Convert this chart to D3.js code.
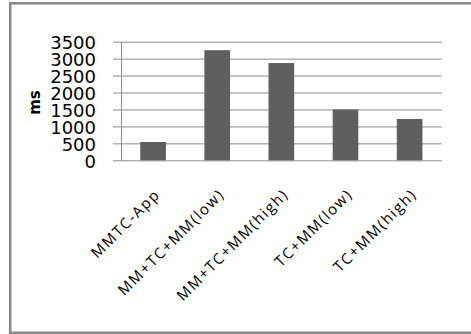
<!DOCTYPE html>
<html><head><meta charset="utf-8">
<script src="https://cdn.jsdelivr.net/npm/d3@7/dist/d3.min.js"></script>
<style>html,body{margin:0;padding:0;background:#fff;}svg{display:block;}</style>
</head><body>
<script>
const categories = ["MMTC-App", "MM+TC+MM(low)", "MM+TC+MM(high)", "TC+MM(low)", "TC+MM(high)"];
const values = [540, 3250, 2870, 1500, 1220];
const yTicks = [0, 500, 1000, 1500, 2000, 2500, 3000, 3500];
const yLabel = "ms";

const W = 471, H = 334;
const svg = d3.select("body").append("svg").attr("width", W).attr("height", H);

// frame
svg.append("rect").attr("x", 10.2).attr("y", 3.3).attr("width", 480).attr("height", 329.5)
  .attr("fill", "none").attr("stroke", "#898989").attr("stroke-width", 2.6);

const x = d3.scaleBand().domain(categories).range([121, 441.7]).paddingInner(0.6).paddingOuter(0.3);
const y = d3.scaleLinear().domain([0, 3500]).range([160.3, 41.7]);

// gridlines + y axis
const yAxis = d3.axisLeft(y).tickValues(yTicks).tickSize(-(441.7 - 121)).tickSizeOuter(0).tickPadding(0).tickFormat(d3.format("d"));
const gy = svg.append("g").attr("transform", "translate(121,0)").call(yAxis);
gy.select(".domain").attr("stroke", "#8c8c8c");
gy.selectAll(".tick line").attr("stroke", "#8c8c8c").attr("x1", -8);
gy.selectAll(".tick text").attr("x", -25).attr("dy", "0.4em")
  .attr("font-family", "DejaVu Sans").attr("font-size", 18).attr("fill", "#000");

// bars
svg.append("g").selectAll("rect").data(values).join("rect")
  .attr("x", (d, i) => x(categories[i]))
  .attr("y", d => y(d))
  .attr("width", x.bandwidth())
  .attr("height", d => y(0) - y(d))
  .attr("fill", "#5f5f5f");

// x labels
const xAxis = d3.axisBottom(x).tickSize(0).tickSizeOuter(0);
const gx = svg.append("g").attr("transform", "translate(0,160.3)").call(xAxis);
gx.select(".domain").remove();
gx.selectAll(".tick text")
  .attr("font-family", "Open Sans").attr("font-size", 15).attr("letter-spacing", 1.6).attr("fill", "#000")
  .attr("text-anchor", "end").attr("y", 0).attr("dy", 0)
  .attr("transform", "translate(8,35) rotate(-45)");

// y label
svg.append("text").attr("transform", "translate(40,102.5) rotate(-90)")
  .attr("text-anchor", "middle").attr("font-family", "DejaVu Sans").attr("font-weight", "bold")
  .attr("font-size", 15).attr("fill", "#000").text(yLabel);
</script>
</body></html>
